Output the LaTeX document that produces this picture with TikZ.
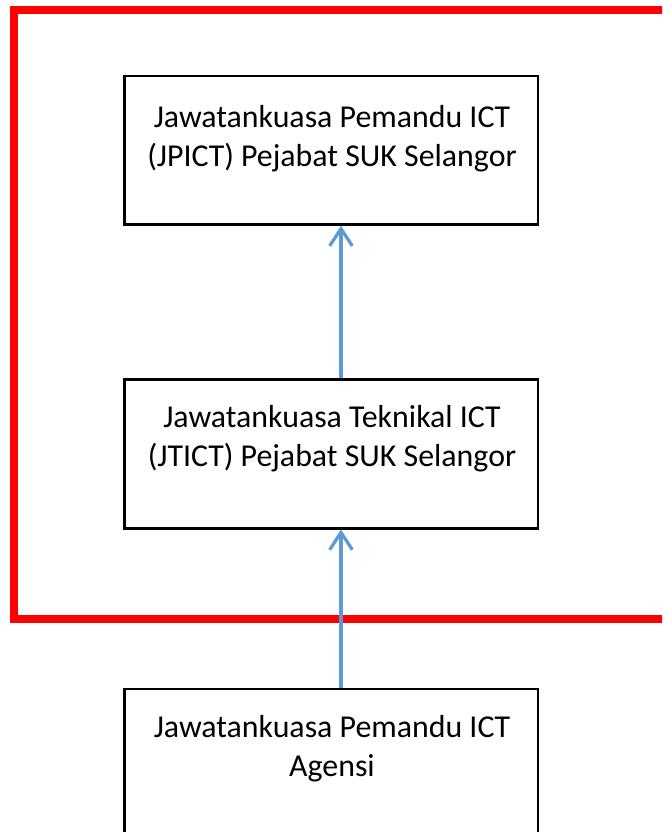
\documentclass[tikz,border=0pt]{standalone}
\usepackage{fontspec}
\setmainfont{Carlito}
\usetikzlibrary{arrows.meta}
\definecolor{frame}{HTML}{FF0000}
\definecolor{arrowblue}{HTML}{5B9BD5}
\tikzset{
  box/.style={draw=black, line width=1.9pt, minimum width=413.5*0.75pt, inner sep=0pt},
  lbl/.style={align=center, font=\fontsize{23.9}{29.25}\selectfont, inner sep=0pt, anchor=base},
  link/.style={draw=arrowblue, line width=2.4pt, -{Straight Barb[length=13pt, width=17pt, line width=2.4pt]}},
  redframe/.style={draw=frame, line width=6pt}
}
\begin{document}
\begin{tikzpicture}[x=0.75pt, y=-0.75pt]
\clip (0,0) rectangle (662,832);
\fill[white] (0,0) rectangle (662,832);
\coordinate (f1) at (13.5,10);
\coordinate (f2) at (690,619);
\draw[redframe] (f1) rectangle (f2);
\node[box, minimum height=148.5*0.75pt] (b1) at (331.2,150.2) {};
\node[box, minimum height=148.5*0.75pt] (b2) at (331.2,454) {};
\node[box, minimum height=160*0.75pt] (b3) at (331.2,769) {};
\node[lbl] (t1) at (332,166) {Jawatankuasa Pemandu ICT\\(JPICT) Pejabat SUK Selangor};
\node[lbl] (t2) at (332,466) {Jawatankuasa Teknikal ICT\\(JTICT) Pejabat SUK Selangor};
\node[lbl] (t3) at (332,776) {Jawatankuasa Pemandu ICT\\Agensi};
\draw[link] (b2.north -| 341,0) -- (b1.south -| 341,0);
\draw[link] (b3.north -| 341,0) -- (b2.south -| 341,0);
\end{tikzpicture}
\end{document}
